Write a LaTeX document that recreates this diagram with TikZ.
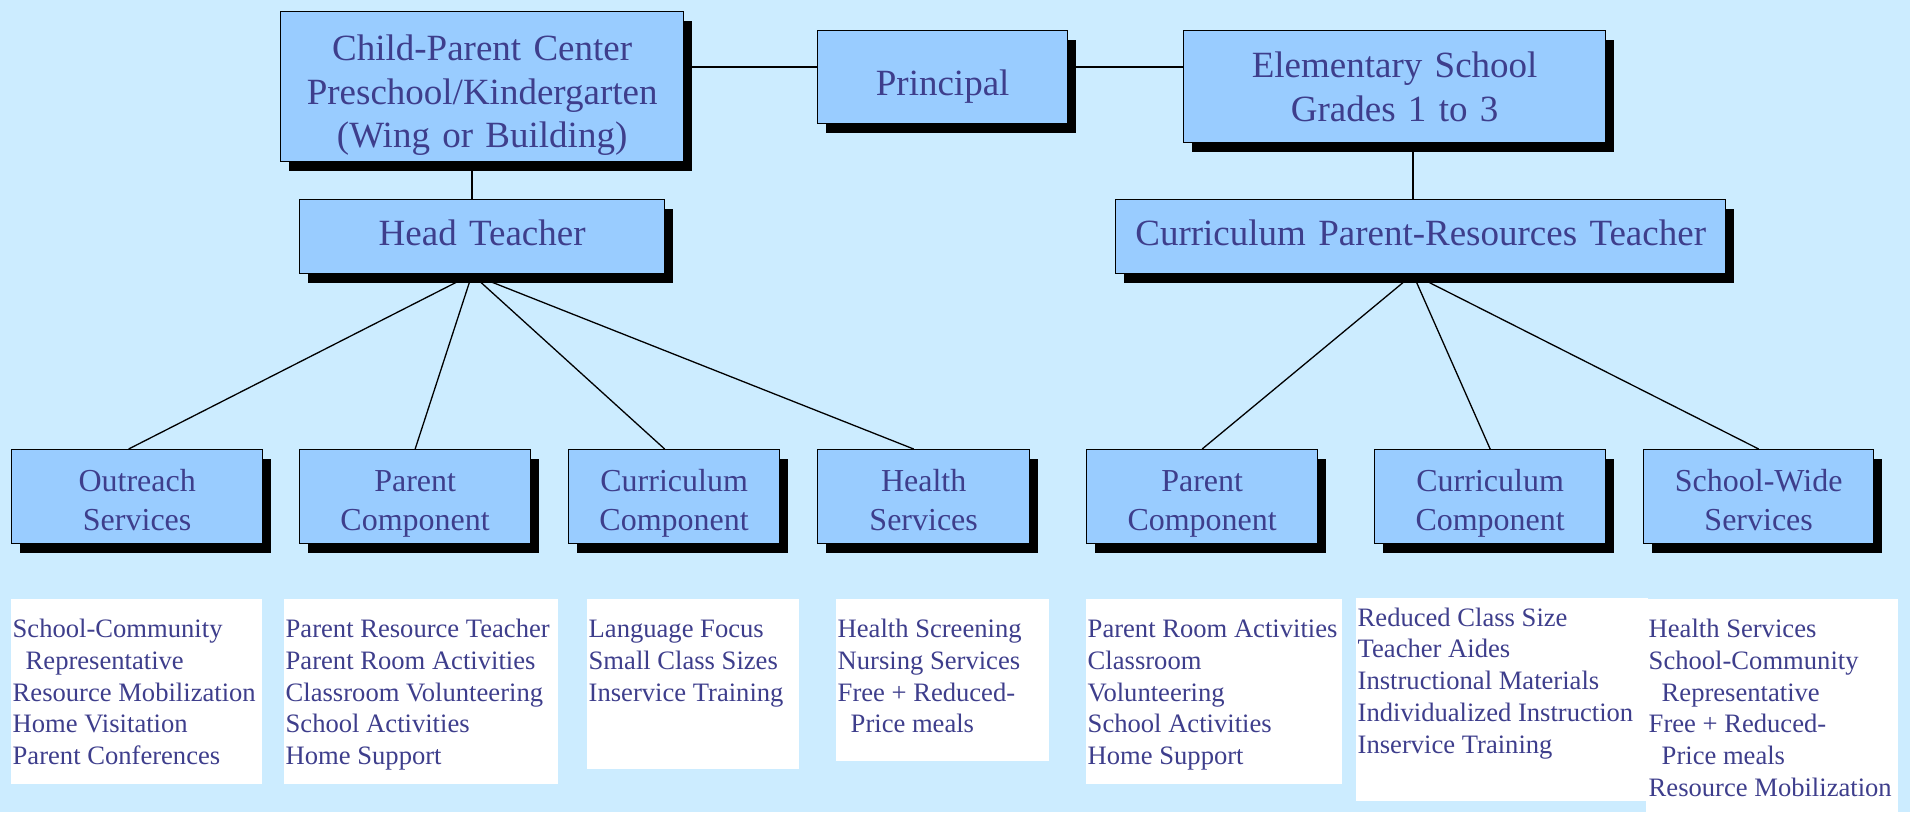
\documentclass[tikz,border=0pt]{standalone}
\usepackage{fontspec}
\setmainfont{Liberation Serif}
\usetikzlibrary{shadows}
\definecolor{bg}{RGB}{204,236,255}
\definecolor{boxfill}{RGB}{153,204,255}
\definecolor{ink}{RGB}{62,62,140}
\begin{document}
\begin{tikzpicture}[x=1pt,y=-1pt,
  tbox/.style={draw=black, line width=1.3pt, fill=boxfill, text=ink, inner sep=0pt,
    align=center, anchor=north west,
    drop shadow={shadow xshift=8pt, shadow yshift=-9pt, fill=black, opacity=1}},
  bigtxt/.style={font=\fontsize{37}{43.5}\selectfont},
  smalltxt/.style={font=\fontsize{32}{39}\selectfont, text height=42pt, text depth=52pt},
  listbox/.style={fill=white, inner sep=0pt, anchor=north west},
  listtext/.style={text=ink, inner sep=0pt, align=left, anchor=north west,
    font=\fontsize{26.6}{31.7}\selectfont},
  link/.style={draw=black, line width=1.3pt}]
\useasboundingbox (0,0) rectangle (1910,812);
\fill[bg] (0,0) rectangle (1910,812);

% top level
\node[tbox, bigtxt, text width=403pt, text height=49pt, text depth=101pt] (child) at (280,11)
  {Child-Parent Center\\Preschool/Kindergarten\\(Wing or Building)};
\node[tbox, bigtxt, text width=250pt, text height=65pt, text depth=28pt] (princ) at (817,30) {Principal};
\node[tbox, bigtxt, text width=422pt, text height=47pt, text depth=65pt] (elem) at (1183,30)
  {Elementary School\\Grades 1 to 3};
\node[tbox, bigtxt, text width=365pt, text height=46pt, text depth=28pt] (head) at (299,199) {Head Teacher};
\node[tbox, bigtxt, text width=610pt, text height=46pt, text depth=28pt] (cprt) at (1115,199)
  {Curriculum Parent-Resources Teacher};

% component boxes
\node[tbox, smalltxt, text width=251pt] (o1) at (11,449) {Outreach\\Services};
\node[tbox, smalltxt, text width=231pt] (p1) at (299,449) {Parent\\Component};
\node[tbox, smalltxt, text width=211pt] (c1) at (568,449) {Curriculum\\Component};
\node[tbox, smalltxt, text width=212pt] (h1) at (817,449) {Health\\Services};
\node[tbox, smalltxt, text width=231pt] (p2) at (1086,449) {Parent\\Component};
\node[tbox, smalltxt, text width=231pt] (c2) at (1374,449) {Curriculum\\Component};
\node[tbox, smalltxt, text width=230pt] (s2) at (1643,449) {School-Wide\\Services};

% list boxes
\node[listbox, minimum width=251pt, minimum height=185pt] (l1) at (11,599) {};
\node[listbox, minimum width=274pt, minimum height=185pt] (l2) at (284,599) {};
\node[listbox, minimum width=212pt, minimum height=170pt] (l3) at (587,599) {};
\node[listbox, minimum width=213pt, minimum height=162pt] (l4) at (836,599) {};
\node[listbox, minimum width=256pt, minimum height=185pt] (l5) at (1086,599) {};
\node[listbox, minimum width=292pt, minimum height=203pt] (l6) at (1356,598) {};
\node[listbox, minimum width=252pt, minimum height=213pt] (l7) at (1646,599) {};

% list texts (first baseline = top + 22.2)
\node[listtext] (t1) at (12.5,615.3)
  {\strut School-Community\\\hspace*{13pt}Representative\\Resource Mobilization\\Home Visitation\\Parent Conferences};
\node[listtext] (t2) at (285.5,615.3)
  {\strut Parent Resource Teacher\\Parent Room Activities\\Classroom Volunteering\\School Activities\\Home Support};
\node[listtext] (t3) at (588.5,615.3)
  {\strut Language Focus\\Small Class Sizes\\Inservice Training};
\node[listtext] (t4) at (837.5,615.3)
  {\strut Health Screening\\Nursing Services\\Free + Reduced-\\\hspace*{13pt}Price meals};
\node[listtext] (t5) at (1087.5,615.3)
  {\strut Parent Room Activities\\Classroom\\Volunteering\\School Activities\\Home Support};
\node[listtext] (t6) at (1357.5,603.8)
  {\strut Reduced Class Size\\Teacher Aides\\Instructional Materials\\Individualized Instruction\\Inservice Training};
\node[listtext] (t7) at (1648.5,615.3)
  {\strut Health Services\\School-Community\\\hspace*{13pt}Representative\\Free + Reduced-\\\hspace*{13pt}Price meals\\Resource Mobilization};

% connectors
\coordinate (j1) at (472,0);
\coordinate (j2) at (1413,0);
\coordinate (j3) at (0,67);
\draw[link] (child.east |- j3) -- (princ.west |- j3);
\draw[link] (princ.east |- j3) -- (elem.west |- j3);
\draw[link] (child.south -| j1) -- (head.north -| j1);
\draw[link] (elem.south -| j2) -- (cprt.north -| j2);
\draw[link] (head.south -| j1) -- ([xshift=-8.5pt]o1.north);
\draw[link] (head.south -| j1) -- (p1.north);
\draw[link] (head.south -| j1) -- ([xshift=-9.5pt]c1.north);
\draw[link] (head.south -| j1) -- ([xshift=-10pt]h1.north);
\draw[link] (cprt.south -| j2) -- (p2.north);
\draw[link] (cprt.south -| j2) -- (c2.north);
\draw[link] (cprt.south -| j2) -- (s2.north);
\end{tikzpicture}
\end{document}
